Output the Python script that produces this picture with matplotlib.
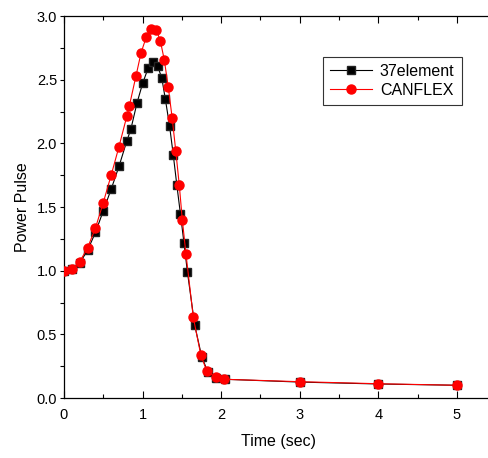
import numpy as np
import matplotlib
matplotlib.use("Agg")
import matplotlib.pyplot as plt
from matplotlib.ticker import MultipleLocator, FormatStrFormatter

plt.rcParams['font.family'] = ['Liberation Sans', 'DejaVu Sans']

# 37element (black squares)
t_37 = [0.0, 0.1, 0.2, 0.3, 0.4, 0.5, 0.6, 0.7, 0.8, 0.85, 0.93, 1.0, 1.07, 1.13,
        1.19, 1.245, 1.29, 1.343, 1.39, 1.435, 1.482, 1.527, 1.57, 1.663, 1.752,
        1.827, 1.934, 2.05, 3.0, 4.0, 5.0]
p_37 = [1.00, 1.01, 1.06, 1.16, 1.30, 1.47, 1.64, 1.82, 2.02, 2.11, 2.32, 2.47, 2.59, 2.64,
        2.61, 2.51, 2.345, 2.137, 1.91, 1.675, 1.442, 1.215, 0.99, 0.572, 0.325,
        0.208, 0.154, 0.147, 0.125, 0.11, 0.10]

# CANFLEX (red circles)
t_cf = [0.0, 0.1, 0.2, 0.3, 0.4, 0.5, 0.6, 0.7, 0.8, 0.83, 0.916, 0.98, 1.047, 1.111,
        1.175, 1.226, 1.276, 1.327, 1.376, 1.422, 1.467, 1.505, 1.552, 1.645, 1.741,
        1.817, 1.932, 2.04, 3.0, 4.0, 5.0]
p_cf = [1.00, 1.01, 1.07, 1.18, 1.335, 1.535, 1.75, 1.975, 2.215, 2.29, 2.53, 2.71, 2.836, 2.90,
        2.89, 2.804, 2.655, 2.44, 2.20, 1.94, 1.67, 1.40, 1.13, 0.633, 0.337,
        0.211, 0.162, 0.147, 0.128, 0.112, 0.10]

fig = plt.figure(figsize=(4.89, 4.58), dpi=100)
xmax = 5.45
ax = fig.add_axes([64/489, 60/458, xmax*78.6/489, 382/458])

ax.plot(t_37, p_37, color='black', lw=0.8, marker='s', ms=6, mfc='black', mec='#222222',
        label='37element', zorder=3)
ax.plot(t_cf, p_cf, color='red', lw=0.8, marker='o', ms=6.5, mfc='red', mec='red',
        label='CANFLEX', zorder=4)

ax.set_xlim(0, xmax)
ax.set_ylim(0, 3.0)
ax.xaxis.set_major_locator(MultipleLocator(1))
ax.xaxis.set_minor_locator(MultipleLocator(0.5))
ax.yaxis.set_major_locator(MultipleLocator(0.5))
ax.yaxis.set_minor_locator(MultipleLocator(0.25))
ax.yaxis.set_major_formatter(FormatStrFormatter('%.1f'))

ax.tick_params(axis='x', which='major', direction='in', length=5, width=0.8, top=True,
               labelsize=10.5, pad=7)
ax.tick_params(axis='x', which='minor', direction='in', length=3, width=0.8, top=True)
ax.tick_params(axis='y', which='major', direction='out', length=3, width=0.8,
               labelsize=10.5, pad=2)
ax.tick_params(axis='y', which='minor', direction='out', length=3, width=0.8)
for s in ax.spines.values():
    s.set_linewidth(0.9)

ax.set_xlabel('Time (sec)', fontsize=11.5, labelpad=9)
ax.set_ylabel('Power Pulse', fontsize=11.5, labelpad=5)

leg = ax.legend(loc='upper left', bbox_to_anchor=(259/428, 0.893), fontsize=11.5,
                fancybox=False, edgecolor='#333333', framealpha=1, handlelength=2.6,
                borderpad=0.45, labelspacing=0.25, handletextpad=0.5, borderaxespad=0)
leg.get_frame().set_linewidth(0.8)

fig.savefig('out.png', dpi=100)
